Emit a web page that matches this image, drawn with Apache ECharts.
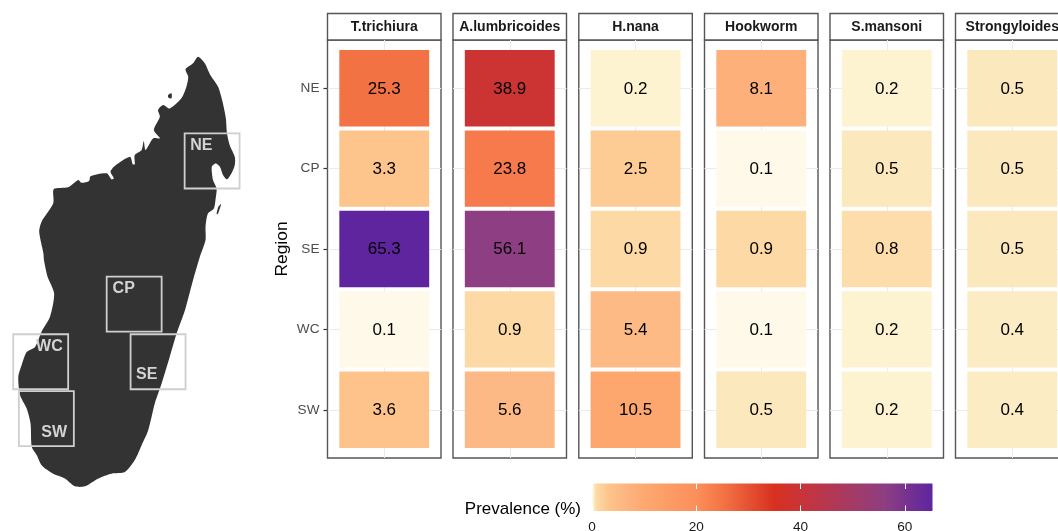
<!DOCTYPE html>
<html>
<head>
<meta charset="utf-8">
<title>Prevalence by region</title>
<script src="https://cdn.jsdelivr.net/npm/echarts@6/dist/echarts.min.js"></script>
<style>
html, body { margin: 0; padding: 0; background: #fff; }
#main { width: 1058px; height: 531px; overflow: hidden; }
</style>
</head>
<body>
<div id="main"></div>
<script>
// data
var regions = ['NE', 'CP', 'SE', 'WC', 'SW'];
var species = ['T.trichiura', 'A.lumbricoides', 'H.nana', 'Hookworm', 'S.mansoni', 'Strongyloides'];
var trichiura = [25.3, 3.3, 65.3, 0.1, 3.6];
var lumbricoides = [38.9, 23.8, 56.1, 0.9, 5.6];
var nana = [0.2, 2.5, 0.9, 5.4, 10.5];
var hookworm = [8.1, 0.1, 0.9, 0.1, 0.5];
var mansoni = [0.2, 0.5, 0.8, 0.2, 0.2];
var strongyloides = [0.5, 0.5, 0.5, 0.4, 0.4];
var prevalence = [trichiura, lumbricoides, nana, hookworm, mansoni, strongyloides];

var legendTicks = [0, 20, 40, 60];
var scaleValues = [0, 0.1, 0.2, 0.5, 0.9, 3.3, 5.5, 10.5, 20, 25.3, 35, 38.9, 56.1, 65.3];
var scaleColors = ['#fffaee', '#fff9e9', '#fef3d1', '#fbe8bc', '#fdd9a5', '#fdc48b', '#fdb985', '#fda76e',
    '#fc8f5b', '#f37244', '#d7301f', '#cc3333', '#8e3e82', '#5e259f'];

// map, lon / lat
var mainland = [[49.23,-12.02],[49.45,-12.22],[49.64,-12.60],[49.90,-12.97],[50.05,-13.45],[50.16,-13.97],
    [50.20,-14.45],[50.29,-14.82],[50.46,-15.19],[50.46,-15.45],[50.35,-15.71],[50.20,-15.90],[50.07,-15.77],
    [49.96,-15.50],[49.82,-15.40],[49.69,-15.50],[49.73,-15.92],[49.85,-16.19],[49.82,-16.50],[49.76,-16.82],
    [49.56,-16.98],[49.48,-17.40],[49.48,-17.82],[49.29,-18.35],[49.06,-19.09],[48.79,-20.04],[48.51,-20.78],
    [48.28,-21.52],[48.01,-22.36],[47.78,-22.99],[47.56,-23.84],[47.34,-24.31],[47.11,-24.78],[46.78,-25.16],
    [46.33,-25.21],[45.89,-25.36],[45.44,-25.61],[45.11,-25.61],[44.77,-25.36],[44.38,-25.21],[43.99,-24.94],
    [43.83,-24.63],[43.66,-24.36],[43.62,-23.62],[43.49,-23.15],[43.27,-22.73],[43.21,-22.15],[43.32,-21.78],
    [43.49,-21.36],[43.77,-21.20],[43.99,-20.72],[44.27,-20.25],[44.41,-19.51],[44.19,-18.98],[44.07,-18.46],
    [44.05,-18.24],[43.91,-17.56],[43.99,-17.24],[44.38,-16.66],[44.40,-16.21],[44.88,-16.15],[45.22,-15.92],
    [45.33,-16.01],[45.58,-15.95],[45.63,-15.80],[46.17,-15.71],[46.33,-15.90],[46.41,-15.87],[46.30,-15.66],
    [46.44,-15.48],[46.95,-15.19],[47.04,-15.42],[47.11,-15.42],[47.11,-15.13],[47.34,-14.97],[47.41,-14.69],
    [47.47,-14.97],[47.73,-14.60],[47.95,-14.60],[47.75,-14.34],[47.95,-13.92],[47.89,-13.71],[48.06,-13.55],
    [48.28,-13.66],[48.67,-13.34],[48.84,-12.97],[48.90,-12.66],[48.81,-12.42],[49.06,-12.23]];
var nosyBe = [[48.23,-13.23],[48.34,-13.18],[48.34,-13.34],[48.23,-13.31]];
var sainteMarie = [[50.00,-16.68],[49.90,-16.98],[49.85,-17.00],[49.91,-16.77]];
var mapRings = [mainland, nosyBe, sainteMarie];

// same order as regions
var boxLon = [49.70, 47.09, 47.89, 43.96, 44.15];
var boxLat = [-15.32, -19.85, -21.67, -21.67, -23.47];
var labelLon = [49.34, 46.74, 47.51, 44.25, 44.41];
var labelLat = [-14.82, -19.37, -22.07, -21.18, -23.90];

var FONT = '"Liberation Sans", Arial, sans-serif';
var panelLeft = [327.5, 453, 578.8, 704.5, 830, 955.5];
var panelW = 113.5, panelTop = 40, panelH = 418, stripTop = 13.5;

function scaleColor(v) {
    for (var i = 1; i < scaleValues.length; i++) {
        if (v <= scaleValues[i]) {
            var t = (v - scaleValues[i - 1]) / (scaleValues[i] - scaleValues[i - 1]);
            return echarts.color.lerp(t, [scaleColors[i - 1], scaleColors[i]]);
        }
    }
    return scaleColors[scaleColors.length - 1];
}

function renderTile(params, api) {
    var x = api.value(0), y = api.value(1), v = api.value(2);
    var p0 = api.coord([x - 0.475, y - 0.475]);
    var p1 = api.coord([x + 0.475, y + 0.475]);
    var c = api.coord([x, y]);
    return {
        type: 'group',
        children: [
            { type: 'rect', shape: { x: p0[0], y: p0[1], width: p1[0] - p0[0], height: p1[1] - p0[1] },
              style: { fill: scaleColor(v) } },
            { type: 'text', style: { text: v.toFixed(1), x: c[0], y: c[1] + 0.7, align: 'center', verticalAlign: 'middle',
              font: '17px ' + FONT, fill: '#000' } }
        ]
    };
}

function renderRing(params, api) {
    var ring = mapRings[api.value(2)];
    return {
        type: 'polygon',
        shape: { points: ring.map(function (p) { return api.coord(p); }), smooth: 0.25 },
        style: { fill: '#333333' }
    };
}

function renderBox(params, api) {
    var i = api.value(2);
    var p0 = api.coord([boxLon[i] - 0.92, boxLat[i] + 0.87]);
    var p1 = api.coord([boxLon[i] + 0.92, boxLat[i] - 0.87]);
    var t = api.coord([labelLon[i], labelLat[i]]);
    return {
        type: 'group',
        children: [
            { type: 'rect', shape: { x: p0[0], y: p0[1], width: p1[0] - p0[0], height: p1[1] - p0[1] },
              style: { fill: 'none', stroke: '#cfcfcf', lineWidth: 1.8 } },
            { type: 'text', style: { text: regions[i], x: t[0], y: t[1], align: 'center', verticalAlign: 'middle',
              font: 'bold 16px ' + FONT, fill: '#d3d3d3' } }
        ]
    };
}

function renderBar(params, api) {
    var p0 = api.coord([0, 1]);
    var p1 = api.coord([scaleValues[scaleValues.length - 1], 0]);
    return {
        type: 'rect',
        shape: { x: p0[0], y: p0[1], width: p1[0] - p0[0], height: p1[1] - p0[1] },
        style: {
            fill: new echarts.graphic.LinearGradient(0, 0, 1, 0, scaleValues.map(function (v, i) {
                return { offset: v / scaleValues[scaleValues.length - 1], color: scaleColors[i] };
            }))
        }
    };
}

var grids = [], xAxes = [], yAxes = [], series = [], graphics = [];

// panels
species.forEach(function (name, s) {
    grids.push({ left: panelLeft[s], top: panelTop, width: panelW, height: panelH, show: true,
        outerBoundsMode: 'none', backgroundColor: '#fff', borderColor: '#555', borderWidth: 1.4 });
    xAxes.push({
        gridIndex: s, type: 'value', min: 0.4, max: 1.6,
        axisLine: { show: false }, axisLabel: { show: false },
        axisTick: { show: false, customValues: [1] },
        splitLine: { show: true, lineStyle: { color: '#ebebeb', width: 1 } }
    });
    yAxes.push({
        gridIndex: s, type: 'value', inverse: true, min: 0.4, max: 5.6,
        name: s === 0 ? 'Region' : '', nameLocation: 'middle', nameRotate: 90, nameGap: 37,
        nameTextStyle: { fontFamily: FONT, fontSize: 17.4, color: '#000' },
        axisLine: { show: false },
        axisTick: { show: s === 0, length: 4, customValues: [1, 2, 3, 4, 5], lineStyle: { color: '#333', width: 1.2 } },
        axisLabel: {
            show: s === 0, customValues: [1, 2, 3, 4, 5], margin: 8,
            fontFamily: FONT, fontSize: 13.6, color: '#4d4d4d',
            formatter: function (v) { return regions[v - 1]; }
        },
        splitLine: { show: true, lineStyle: { color: '#ebebeb', width: 1 } }
    });
    series.push({
        type: 'custom', xAxisIndex: s, yAxisIndex: s, renderItem: renderTile, silent: true,
        data: prevalence[s].map(function (v, r) { return [1, r + 1, v]; })
    });
    graphics.push({
        type: 'rect', shape: { x: panelLeft[s], y: stripTop, width: panelW, height: panelTop - stripTop },
        style: { fill: '#fff', stroke: '#555', lineWidth: 1.4 }
    });
    graphics.push({
        type: 'text', x: panelLeft[s] + panelW / 2, y: (stripTop + panelTop) / 2,
        style: { text: name, align: 'center', verticalAlign: 'middle', font: 'bold 14px ' + FONT, fill: '#1a1a1a' }
    });
});

// map
var m = grids.length;
grids.push({ left: 18, top: 56, width: 218, height: 430, outerBoundsMode: 'none' });
xAxes.push({ gridIndex: m, type: 'value', min: 43.2, max: 50.5, show: false });
yAxes.push({ gridIndex: m, type: 'value', min: -25.6, max: -12, show: false });
series.push({
    type: 'custom', xAxisIndex: m, yAxisIndex: m, renderItem: renderRing, silent: true,
    data: mapRings.map(function (r, i) { return [r[0][0], r[0][1], i]; })
});
series.push({
    type: 'custom', xAxisIndex: m, yAxisIndex: m, renderItem: renderBox, silent: true, z: 3,
    data: regions.map(function (r, i) { return [boxLon[i], boxLat[i], i]; })
});

// colour bar
var b = grids.length;
grids.push({ left: 592, top: 483.5, width: 340.5, height: 27.5, outerBoundsMode: 'none' });
var barMax = scaleValues[scaleValues.length - 1];
xAxes.push({
    gridIndex: b, type: 'value', min: 0, max: barMax, position: 'bottom', z: 5,
    axisLine: { show: false }, splitLine: { show: false },
    axisTick: { show: true, inside: true, length: 5.5, customValues: legendTicks, lineStyle: { color: '#fff', width: 1 } },
    axisLabel: { customValues: legendTicks, margin: 9.5, fontFamily: FONT, fontSize: 13.6, color: '#1a1a1a' }
});
xAxes.push({
    gridIndex: b, type: 'value', min: 0, max: barMax, position: 'top', z: 5,
    axisLine: { show: false }, splitLine: { show: false }, axisLabel: { show: false },
    axisTick: { show: true, inside: true, length: 5.5, customValues: legendTicks, lineStyle: { color: '#fff', width: 1 } }
});
yAxes.push({ gridIndex: b, type: 'value', min: 0, max: 1, show: false });
series.push({
    type: 'custom', xAxisIndex: xAxes.length - 2, yAxisIndex: yAxes.length - 1, renderItem: renderBar, silent: true,
    data: [[0, 0]]
});
graphics.push({
    type: 'text', x: 581, y: 509.5,
    style: { text: 'Prevalence (%)', align: 'right', verticalAlign: 'middle', font: '17px ' + FONT, fill: '#000' }
});

var myChart = echarts.init(document.getElementById('main'));
myChart.setOption({
    animation: false,
    backgroundColor: '#fff',
    grid: grids,
    xAxis: xAxes,
    yAxis: yAxes,
    series: series,
    graphic: graphics
});
</script>
</body>
</html>
